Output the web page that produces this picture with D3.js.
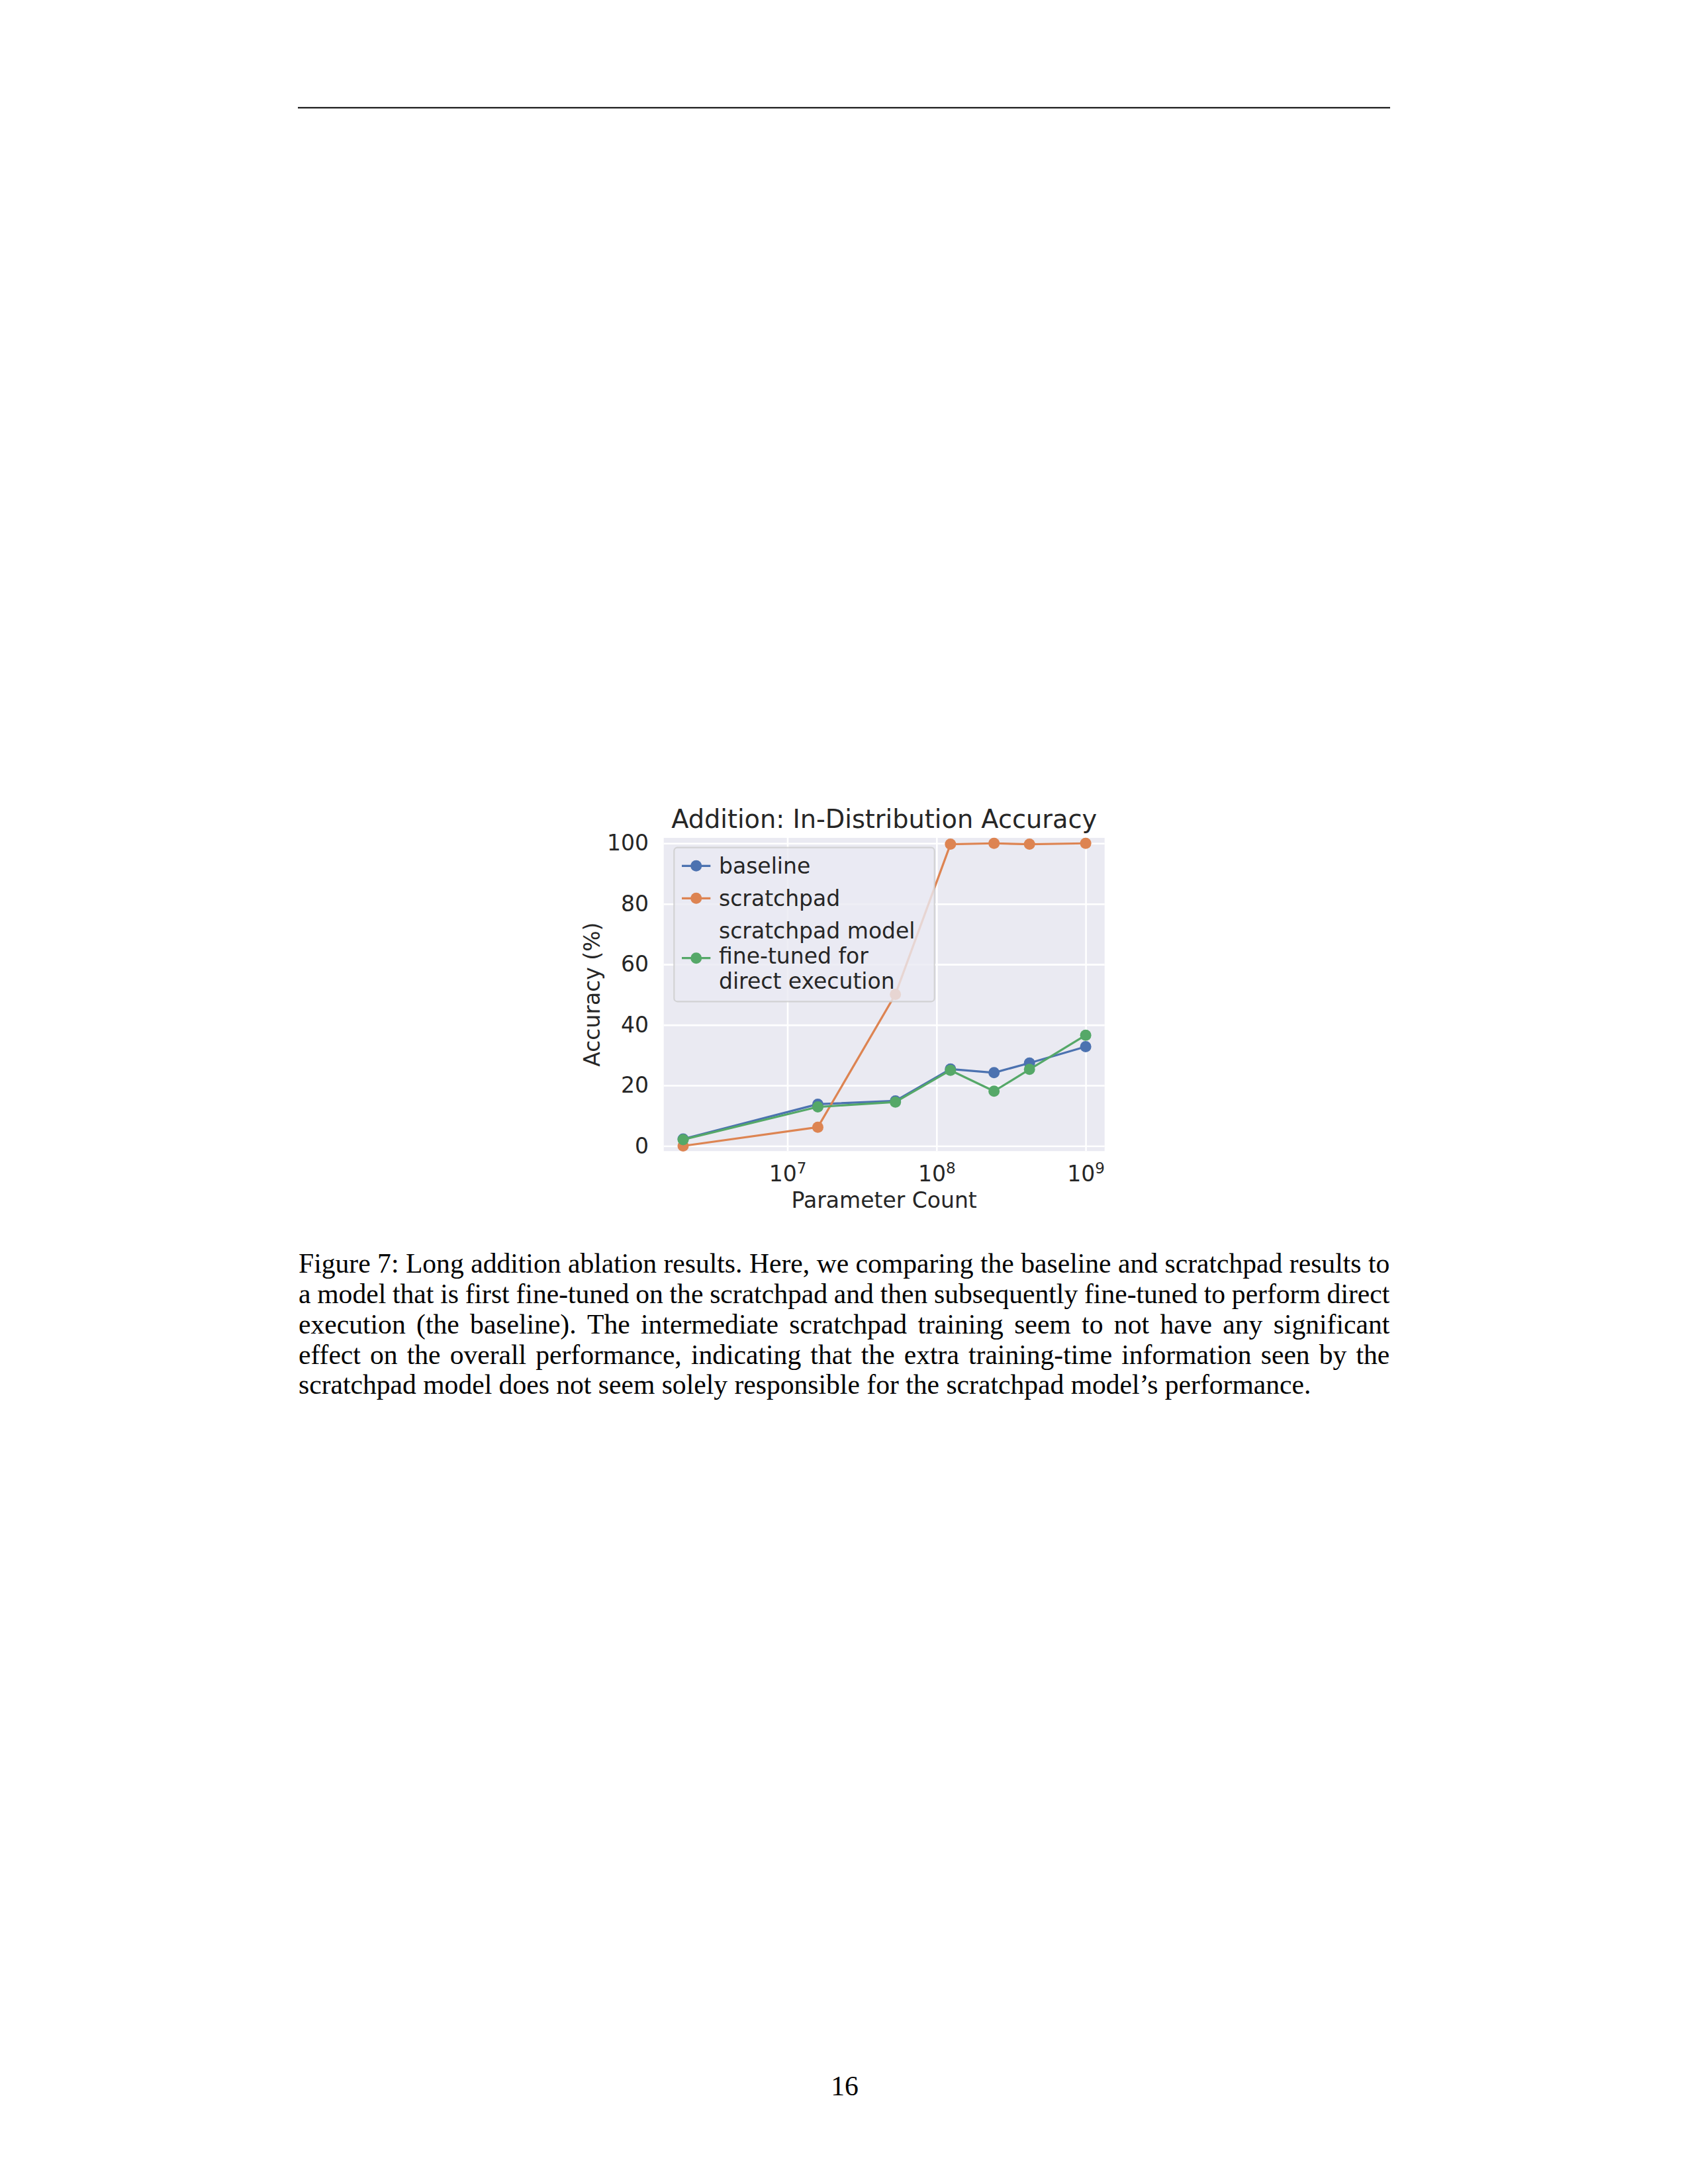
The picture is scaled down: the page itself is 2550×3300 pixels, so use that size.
<!DOCTYPE html>
<html>
<head>
<meta charset="utf-8">
<script src="https://cdn.jsdelivr.net/npm/d3@7"></script>
<style>
  body { margin: 0; background: #ffffff; }
  svg { display: block; }
</style>
</head>
<body>
<script>
// values
var paramCount = [2e6, 1.6e7, 5.3e7, 1.24e8, 2.43e8, 4.2e8, 1e9];
var baseline   = [2.3, 13.8, 14.9, 25.4, 24.2, 27.4, 32.8];
var scratchpad = [0.0, 6.2, 50.1, 99.7, 100.0, 99.7, 100.0];
var finetuned  = [2.1, 12.9, 14.5, 25.0, 18.1, 25.3, 36.6];

var seriesNames = ["baseline", "scratchpad", "scratchpad model\nfine-tuned for\ndirect execution"];
var seriesColors = ["#4C72B0", "#DD8452", "#55A868"];
var xTickExp = [7, 8, 9];
var yTicks = [0, 20, 40, 60, 80, 100];

var captionLines = [
  "Figure 7: Long addition ablation results. Here, we comparing the baseline and scratchpad results to",
  "a model that is first fine-tuned on the scratchpad and then subsequently fine-tuned to perform direct",
  "execution (the baseline).  The intermediate scratchpad training seem to not have any significant",
  "effect on the overall performance, indicating that the extra training-time information seen by the",
  "scratchpad model does not seem solely responsible for the scratchpad model\u2019s performance."
];

var W = 2550, H = 3300;
var pL = 1002.7, pR = 1668.7, pT = 1266, pB = 1739.3;
var ink = "#262626";
var sans = "DejaVu Sans";

var svg = d3.select("body").append("svg")
  .attr("width", W).attr("height", H);

// header rule
svg.append("line")
  .attr("x1", 450).attr("x2", 2100)
  .attr("y1", 162.7).attr("y2", 162.7)
  .attr("stroke", "#000").attr("stroke-width", 2);

var x = d3.scaleLog()
  .domain([Math.pow(10, 6.171), Math.pow(10, 9.127)])
  .range([pL, pR]);
var y = d3.scaleLinear()
  .domain([-1.7, 101.8])
  .range([pB, pT]);

svg.append("rect")
  .attr("x", pL).attr("y", pT)
  .attr("width", pR - pL).attr("height", pB - pT)
  .attr("fill", "#EAEAF2");

// y grid + labels
var yAxis = svg.append("g")
  .attr("transform", "translate(" + pL + ",0)")
  .call(d3.axisLeft(y).tickValues(yTicks).tickSize(-(pR - pL)).tickPadding(22.7));
yAxis.select(".domain").remove();
yAxis.selectAll(".tick line").attr("stroke", "#ffffff").attr("stroke-width", 2.6);
yAxis.selectAll(".tick text")
  .attr("font-family", sans).attr("font-size", 33).attr("fill", ink);

// x grid + labels
var xAxis = svg.append("g")
  .attr("transform", "translate(0," + pB + ")")
  .call(d3.axisBottom(x)
    .tickValues(xTickExp.map(function(e) { return Math.pow(10, e); }))
    .tickSize(-(pB - pT)).tickPadding(22.3));
xAxis.select(".domain").remove();
xAxis.selectAll(".tick line").attr("stroke", "#ffffff").attr("stroke-width", 2.6);
xAxis.selectAll(".tick text")
  .attr("font-family", sans).attr("font-size", 33).attr("fill", ink)
  .text(null)
  .each(function(d) {
    var t = d3.select(this);
    t.append("tspan").text("10");
    t.append("tspan").attr("font-size", 23).attr("dy", -12.3)
      .text(Math.round(Math.log10(d)));
  });

// series
var allSeries = [baseline, scratchpad, finetuned];
var line = d3.line()
  .x(function(d) { return x(d[0]); })
  .y(function(d) { return y(d[1]); });

allSeries.forEach(function(vals, i) {
  var pts = paramCount.map(function(p, j) { return [p, vals[j]]; });
  svg.append("path")
    .datum(pts)
    .attr("d", line)
    .attr("fill", "none")
    .attr("stroke", seriesColors[i])
    .attr("stroke-width", 3.2)
    .attr("stroke-linejoin", "round");
  svg.append("g").selectAll("circle")
    .data(pts).enter().append("circle")
    .attr("cx", function(d) { return x(d[0]); })
    .attr("cy", function(d) { return y(d[1]); })
    .attr("r", 8.5)
    .attr("fill", seriesColors[i]);
});

// legend
var leg = svg.append("g");
leg.append("rect")
  .attr("x", 1018.3).attr("y", 1280.7)
  .attr("width", 393.4).attr("height", 232.6)
  .attr("rx", 5)
  .attr("fill", "#EAEAF2").attr("fill-opacity", 0.8)
  .attr("stroke", "#cccccc").attr("stroke-opacity", 0.8).attr("stroke-width", 2.2);

var legRowY = [1308.3, 1357.3, 1447.7];
var legTextY = [[1320], [1369.3], [1418.3, 1456, 1494]];
seriesNames.forEach(function(name, i) {
  leg.append("line")
    .attr("x1", 1030).attr("x2", 1073.3)
    .attr("y1", legRowY[i]).attr("y2", legRowY[i])
    .attr("stroke", seriesColors[i]).attr("stroke-width", 3.2);
  leg.append("circle")
    .attr("cx", 1051.7).attr("cy", legRowY[i]).attr("r", 8.5)
    .attr("fill", seriesColors[i]);
  name.split("\n").forEach(function(part, k) {
    leg.append("text")
      .attr("x", 1086).attr("y", legTextY[i][k])
      .attr("font-family", sans).attr("font-size", 33).attr("fill", ink)
      .text(part);
  });
});

// title and axis labels
svg.append("text")
  .attr("x", (pL + pR) / 2).attr("y", 1250.7)
  .attr("text-anchor", "middle")
  .attr("font-family", sans).attr("font-size", 38.3).attr("fill", ink)
  .text("Addition: In-Distribution Accuracy");

svg.append("text")
  .attr("x", (pL + pR) / 2).attr("y", 1825)
  .attr("text-anchor", "middle")
  .attr("font-family", sans).attr("font-size", 33).attr("fill", ink)
  .text("Parameter Count");

svg.append("text")
  .attr("transform", "translate(906," + (pT + pB) / 2 + ") rotate(-90)")
  .attr("text-anchor", "middle")
  .attr("font-family", sans).attr("font-size", 33).attr("fill", ink)
  .text("Accuracy (%)");

// caption, justified
var capLeft = 451, capRight = 2099.3, capSize = 41.6;
var capBase = [1923.3, 1969, 2015, 2060.5, 2106];
captionLines.forEach(function(txt, i) {
  var words = txt.split(/\s+/);
  var g = svg.append("g");
  var widths = words.map(function(w) {
    var t = g.append("text")
      .attr("font-family", "Liberation Serif").attr("font-size", capSize)
      .text(w);
    var wd = t.node().getComputedTextLength();
    t.remove();
    return wd;
  });
  var total = d3.sum(widths);
  var last = i === captionLines.length - 1;
  var gap = last ? capSize * 0.25 : (capRight - capLeft - total) / (words.length - 1);
  var cx = capLeft;
  words.forEach(function(w, j) {
    g.append("text")
      .attr("x", cx).attr("y", capBase[i])
      .attr("font-family", "Liberation Serif").attr("font-size", capSize)
      .attr("fill", "#000")
      .text(w);
    cx += widths[j] + gap;
  });
});

// page number
svg.append("text")
  .attr("x", 1276).attr("y", 3166)
  .attr("text-anchor", "middle")
  .attr("font-family", "Liberation Serif").attr("font-size", 41.6)
  .attr("fill", "#000")
  .text("16");
</script>
</body>
</html>
